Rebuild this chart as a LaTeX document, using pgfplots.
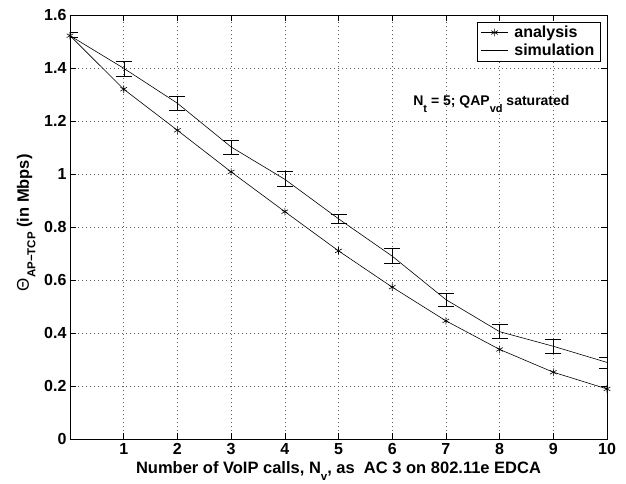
\documentclass[border=0pt]{standalone}
\usepackage{fontspec}
\setmainfont{Liberation Sans}[BoldFont={Liberation Sans Bold}]
\usepackage{pgfplots}
\pgfplotsset{compat=1.18}
\newcommand{\sub}[1]{\raisebox{-6.5pt}{\fontsize{11.5}{11.5}\selectfont #1}}
\newcommand{\subs}[1]{\raisebox{-7pt}{\fontsize{11}{11}\selectfont #1}}
\pgfplotstableread{
x y ep em
0 1.522 0.011 0.006
1 1.399 0.027 0.029
2 1.267 0.028 0.027
3 1.102 0.025 0.027
4 0.980 0.029 0.028
5 0.831 0.018 0.017
6 0.690 0.028 0.028
7 0.526 0.023 0.024
8 0.405 0.026 0.024
9 0.350 0.026 0.027
10 0.289 0.018 0.022
}\simtable
\begin{document}
\begin{tikzpicture}
\begin{axis}[
 scale only axis, width=537pt, height=424pt,
 xmin=0, xmax=10, ymin=0, ymax=1.6,
 xtick={1,2,3,4,5,6,7,8,9,10},
 xticklabels={1,2,3,4,5,6,7,8,9,10},
 ytick={0,0.2,0.4,0.6,0.8,1,1.2,1.4,1.6},
 yticklabels={0,0.2,0.4,0.6,0.8,1,1.2,1.4,1.6},
 xtick pos=both, ytick pos=both,
 xticklabel pos=lower, yticklabel pos=left,
 tick align=inside, major tick length=6pt,
 tick style={black, line width=0.6pt},
 axis line style={black, line width=0.8pt},
 grid=major,
 major grid style={black!65, line width=0.5pt, dash pattern=on 0.8pt off 3.2pt},
 /pgf/number format/assume math mode=true,
 ticklabel style={font=\bfseries\fontsize{16}{16}\selectfont},
 xticklabel style={yshift=-1pt},
 xlabel={Number of VoIP calls, N\sub{v}, as\ \ AC 3 on 802.11e EDCA},
 xlabel style={font=\bfseries\fontsize{16.5}{16.5}\selectfont, at={(axis description cs:0.5,-0.0825)}, anchor=base},
 ylabel={{\mdseries\fontsize{17}{17}\selectfont Θ}\sub{AP−TCP} (in Mbps)},
 ylabel style={font=\bfseries\fontsize{16.5}{16.5}\selectfont, at={(axis description cs:-0.0764,0.51)}, anchor=base},
 legend style={at={(0.988,0.984)}, anchor=north east, font=\bfseries\fontsize{16}{16}\selectfont, draw=black, inner xsep=4pt, inner ysep=2pt, row sep=1pt, column sep=4pt},
 legend cell align=left,
 legend image code/.code={\draw[mark repeat=2,mark phase=2,#1] plot coordinates {(0pt,0pt) (13.5pt,0pt) (27pt,0pt)};},
]
\addplot[black, line width=0.6pt, mark=asterisk, mark size=3.8pt, mark options={line width=0.6pt}] coordinates {
(0,1.522) (1,1.320) (2,1.165) (3,1.008) (4,0.858) (5,0.710) (6,0.573) (7,0.446) (8,0.338) (9,0.252) (10,0.189)};
\addlegendentry{analysis}
\addplot[black, line width=0.6pt, error bars/.cd, y dir=both, y explicit, error mark options={rotate=90, mark size=8pt, line width=0.6pt, black}]
 table[x=x, y=y, y error plus=ep, y error minus=em] {\simtable};
\addlegendentry{simulation}
\node[font=\bfseries\fontsize{14}{14}\selectfont, anchor=base west, inner sep=0pt] at (axis cs:6.39,1.257) {N\subs{t} = 5; QAP\subs{vd} saturated};
\end{axis}
\pgfresetboundingbox
\path (current axis.south west) ++(-70pt,-44pt) rectangle ++(626pt,483pt);
\end{tikzpicture}
\end{document}
